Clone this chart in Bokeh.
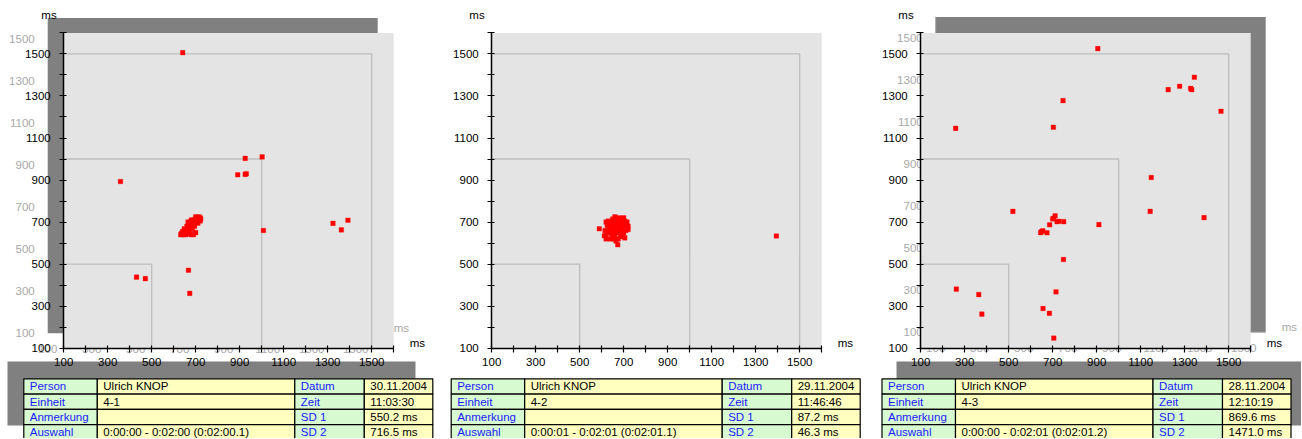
from bokeh.plotting import figure
from bokeh.layouts import row
from bokeh.models import Range1d, FixedTicker, ColumnDataSource
from bokeh.core.properties import value
from bokeh.embed import file_html
from bokeh.resources import INLINE

# ---------------- data ----------------
# Poincaré plot points: RR(n) [ms] vs RR(n+1) [ms]
p1_x = [641, 925, 1002, 891, 925, 930, 358, 667, 673, 431, 471, 1008, 1324, 1362, 1392,
        640, 645, 650, 655, 660, 650, 640, 665, 670, 675, 680, 660, 670, 685, 690, 695, 700,
        705, 710, 715, 720, 700, 690, 680, 665, 655, 648, 675, 705, 715, 695, 685, 635, 660,
        710, 680, 700, 645, 670, 690, 632, 690, 700, 680, 665, 720, 723]
p1_y = [1506, 1003, 1010, 925, 927, 930, 893, 471, 361, 438, 431, 660, 694, 663, 709,
        640, 650, 645, 655, 660, 660, 655, 670, 665, 680, 675, 680, 690, 690, 700, 695, 705,
        700, 715, 710, 720, 715, 710, 700, 650, 640, 668, 700, 720, 725, 680, 665, 645, 645,
        695, 710, 725, 640, 650, 685, 640, 640, 650, 640, 700, 705, 715]

p2_x = [620, 630, 640, 650, 660, 670, 680, 690, 700, 710, 700, 690, 680, 670, 660, 650, 640,
        630, 640, 650, 660, 670, 680, 690, 700, 710, 720, 715, 705, 695, 685, 675, 665, 655,
        645, 635, 625, 615, 620, 630, 645, 655, 665, 675, 685, 660, 650, 690, 720, 589, 673,
        612, 705, 660, 640, 620, 1394]
p2_y = [640, 650, 660, 670, 680, 690, 700, 710, 720, 690, 680, 670, 660, 650, 640, 630, 620,
        680, 700, 715, 725, 710, 720, 690, 650, 660, 680, 700, 705, 640, 630, 620, 610, 620,
        645, 665, 685, 660, 700, 705, 690, 700, 665, 675, 685, 655, 655, 650, 665, 668, 592,
        635, 625, 700, 680, 620, 634]

p3_x = [905, 1344, 1277, 1225, 1327, 1332, 1465, 747, 703, 259, 1148, 519, 1143, 1388, 910,
        711, 700, 704, 720, 728, 750, 686, 650, 645, 655, 674, 749, 262, 364, 715, 378, 656,
        685, 705]
p3_y = [1525, 1389, 1346, 1330, 1336, 1330, 1227, 1278, 1151, 1146, 912, 751, 751, 721, 688,
        730, 715, 718, 702, 704, 702, 687, 655, 650, 658, 649, 522, 381, 355, 368, 262, 289,
        266, 148]

tick_labels = [100, 300, 500, 700, 900, 1100, 1300, 1500]
minor_ticks = [200, 400, 600, 800, 1000, 1200, 1400, 1600]
box_sizes = [500, 1000, 1500]
axis_min, axis_max = 100, 1600
unit = "ms"

left_labels = ["Person", "Einheit", "Anmerkung", "Auswahl"]
right_labels = ["Datum", "Zeit", "SD 1", "SD 2"]
t1_values = ["Ulrich KNOP", "4-1", "", "0:00:00 - 0:02:00 (0:02:00.1)"]
t1_right = ["30.11.2004", "11:03:30", "550.2 ms", "716.5 ms"]
t2_values = ["Ulrich KNOP", "4-2", "", "0:00:01 - 0:02:01 (0:02:01.1)"]
t2_right = ["29.11.2004", "11:46:46", "87.2 ms", "46.3 ms"]
t3_values = ["Ulrich KNOP", "4-3", "", "0:00:00 - 0:02:01 (0:02:01.2)"]
t3_right = ["28.11.2004", "12:10:19", "869.6 ms", "1471.0 ms"]

# ---------------- layout / style ----------------
H = 438
WIDTHS = [436, 429, 436]
OX = [8, 0, 0]     # extra left offset of each panel inside its canvas
AX0 = 55.2         # canvas px of the y axis (relative to panel origin)
AYT = 32.4         # canvas px of the top of the plot area
PW, PH = 330.0, 315.3
SX = PW / (axis_max - axis_min)
SY = PH / (axis_max - axis_min)
FONT = "Liberation Sans"
FS = "11.5px"
BG = "#e4e4e4"
SHADOW = "#808080"
GHOST = "#a8a8a8"
COL_EDGES = [15, 88.5, 286, 355.5, 424]
ROW_TOP = 378.3
ROW_H = 15.3
TSH_TOP, TSH_BOT = 361, 425
GREEN = "#d8fad0"
YELLOW = "#ffffc0"
BLUE = "#1a1aff"


def make_panel(W, ox, xs, ys, vals, rvals, ghost=None, table_shadow=None, tdx=0.0):
    AX = AX0 + ox
    x0 = axis_min - AX / SX
    y1 = axis_max + AYT / SY
    p = figure(width=W, height=H, output_backend="svg", toolbar_location=None,
               x_range=Range1d(x0, x0 + W / SX), y_range=Range1d(y1 - H / SY, y1),
               min_border=0, outline_line_color=None,
               background_fill_color="white", border_fill_color="white")
    p.extra_x_ranges = {"cx": Range1d(0, W)}
    p.extra_y_ranges = {"cy": Range1d(H, 0)}
    p.grid.visible = False

    # table shadow
    if table_shadow is not None:
        l, r = table_shadow
        p.quad(left=[l + ox], right=[r + ox], top=[TSH_TOP], bottom=[TSH_BOT],
               fill_color=SHADOW, line_color=None, x_range_name="cx", y_range_name="cy")

    # plot-area shadow and ghost texts
    if ghost is not None:
        gx, gy = ghost
        p.quad(left=[AX + gx], right=[AX + PW + gx], top=[AYT + gy], bottom=[AYT + PH + gy],
               fill_color=SHADOW, line_color=None, x_range_name="cx", y_range_name="cy")
        if gx > 0:
            p.segment(x0=[AX + gx, AX + gx], y0=[AYT + gy, AYT + PH + gy],
                      x1=[AX + gx, AX + PW + gx], y1=[AYT + PH + gy, AYT + PH + gy],
                      line_color=GHOST, line_width=1, x_range_name="cx", y_range_name="cy")
        p.text(x=[axis_min] * len(tick_labels), y=tick_labels, text=[str(t) for t in tick_labels],
               text_font=value(FONT), text_font_size=FS, text_color=GHOST,
               text_align="right", text_baseline="middle", x_offset=-13 + gx, y_offset=gy)
        p.text(x=tick_labels, y=[axis_min] * len(tick_labels), text=[str(t) for t in tick_labels],
               text_font=value(FONT), text_font_size=FS, text_color=GHOST,
               text_align="center", text_baseline="middle", x_offset=gx, y_offset=15.6 + gy)
        p.text(x=[axis_max], y=[axis_min], text=[unit], text_font=value(FONT),
               text_font_size=FS, text_color=GHOST, text_align="left",
               text_baseline="middle", x_offset=16 + gx, y_offset=-5 + gy)

    # plot area background
    p.quad(left=[axis_min], right=[axis_max], bottom=[axis_min], top=[axis_max],
           fill_color=BG, line_color=None)

    # nested reference squares
    for s in box_sizes:
        p.line(x=[axis_min, s, s], y=[s, s, axis_min], line_color="#bdbdbd", line_width=1.3)

    # points
    p.scatter(x=xs, y=ys, marker="square", size=4.6, fill_color="#ff0000",
              line_color="#ff0000", line_width=0.3)

    # unit labels
    p.text(x=[axis_min], y=[axis_max], text=[unit], text_font=value(FONT), text_font_size=FS,
           text_color="black", text_align="right", text_baseline="middle",
           x_offset=-7, y_offset=-17.5)
    p.text(x=[axis_max], y=[axis_min], text=[unit], text_font=value(FONT), text_font_size=FS,
           text_color="black", text_align="left", text_baseline="middle",
           x_offset=16, y_offset=-5)

    # axes
    for ax, tin, tout, stand in ((p.xaxis[0], 3, 4, 6), (p.yaxis[0], 3, 4, 9)):
        ax.fixed_location = axis_min
        ax.bounds = (axis_min, axis_max)
        ax.ticker = FixedTicker(ticks=tick_labels, minor_ticks=minor_ticks)
        ax.axis_line_color = "black"
        ax.axis_line_width = 1.5
        ax.major_tick_line_color = "black"
        ax.minor_tick_line_color = "black"
        ax.major_tick_line_width = 1.2
        ax.minor_tick_line_width = 1.2
        ax.major_tick_in = tin
        ax.major_tick_out = tout
        ax.minor_tick_in = tin
        ax.minor_tick_out = tout
        ax.major_label_standoff = stand
        ax.major_label_text_font = FONT
        ax.major_label_text_font_size = FS
        ax.major_label_text_color = "black"

    # info table
    lefts, rights, tops, bottoms, fills = [], [], [], [], []
    tx, ty, tt, tc = [], [], [], []
    for r in range(4):
        texts = [left_labels[r], vals[r], right_labels[r], rvals[r]]
        for c in range(4):
            lefts.append(COL_EDGES[c] + tdx + ox)
            rights.append(COL_EDGES[c + 1] + tdx + ox)
            tops.append(ROW_TOP + r * ROW_H)
            bottoms.append(ROW_TOP + (r + 1) * ROW_H)
            fills.append(GREEN if c % 2 == 0 else YELLOW)
            tx.append(COL_EDGES[c] + tdx + ox + 6)
            ty.append(ROW_TOP + (r + 0.5) * ROW_H)
            tt.append(texts[c])
            tc.append(BLUE if c % 2 == 0 else "black")
    p.quad(source=ColumnDataSource(dict(l=lefts, r=rights, t=tops, b=bottoms, f=fills)),
           left="l", right="r", top="t", bottom="b", fill_color="f", line_color="black",
           line_width=1.2, x_range_name="cx", y_range_name="cy")
    p.text(source=ColumnDataSource(dict(x=tx, y=ty, t=tt, c=tc)), x="x", y="y", text="t",
           text_color="c", text_font=value(FONT), text_font_size="11.5px",
           text_align="left", text_baseline="middle", x_range_name="cx", y_range_name="cy")
    return p


p1 = make_panel(WIDTHS[0], OX[0], p1_x, p1_y, t1_values, t1_right, ghost=(-16, -15),
                table_shadow=(-1, 407), tdx=0.3)
p2 = make_panel(WIDTHS[1], OX[1], p2_x, p2_y, t2_values, t2_right, tdx=-0.3)
p3 = make_panel(WIDTHS[2], OX[2], p3_x, p3_y, t3_values, t3_right, ghost=(15, -16),
                table_shadow=(31, 440), tdx=1.5)

layout = row(p1, p2, p3)
open("out.html", "w").write(file_html(layout, INLINE))
